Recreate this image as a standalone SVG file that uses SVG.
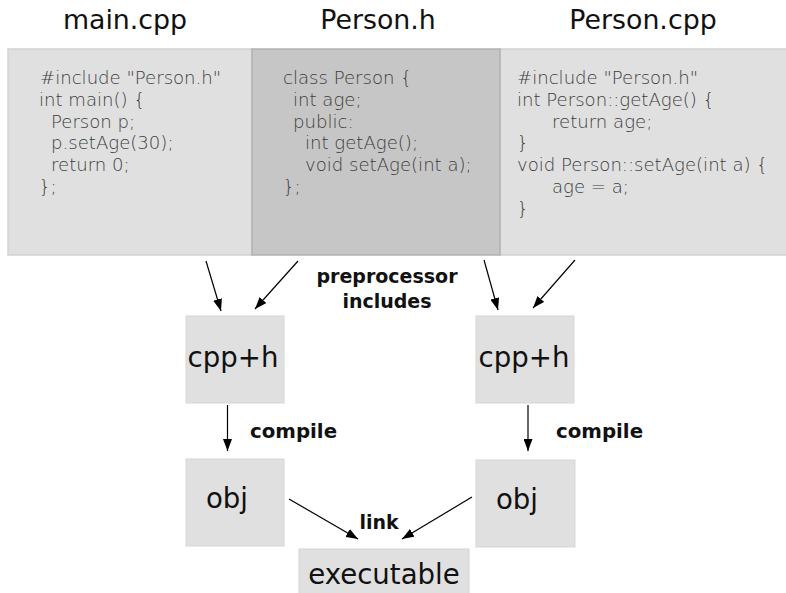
<svg xmlns="http://www.w3.org/2000/svg" width="786" height="593" viewBox="0 0 786 593">
  <defs>
    <marker id="arrow" markerWidth="12" markerHeight="9" refX="12" refY="4.5" orient="auto" markerUnits="userSpaceOnUse">
      <path d="M0,0 L12,4.5 L0,9 z" fill="#000"/>
    </marker>
    <style>
      .title { font-family: "DejaVu Sans", sans-serif; font-size: 26.8px; fill: #111; text-anchor: middle; }
      .code { font-family: "DejaVu Sans", sans-serif; font-size: 18.1px; font-weight: 300; fill: #3c3c3c; }
      .file { fill: #e0e0e0; stroke: #d2d2d2; stroke-width: 1.5; }
      .header { fill: #c6c6c6; stroke: #b2b2b2; stroke-width: 1.5; }
      .box { fill: #e0e0e0; stroke: #d6d6d6; stroke-width: 1; }
      .big { font-family: "DejaVu Sans", sans-serif; font-size: 27.6px; fill: #111; text-anchor: middle; }
      .label { font-family: "DejaVu Sans", sans-serif; font-size: 19px; font-weight: bold; fill: #111; }
      .conn { stroke: #000; stroke-width: 1.2; fill: none; marker-end: url(#arrow); }
    </style>
  </defs>

  <g id="main-cpp">
    <rect class="file" x="8" y="49" width="244" height="206"/>
    <text class="title" x="125" y="29">main.cpp</text>
    <text class="code" x="40" y="84">#include "Person.h"</text>
    <text class="code" x="39" y="106">int main() {</text>
    <text class="code" x="51" y="128">Person p;</text>
    <text class="code" x="51" y="149">p.setAge(30);</text>
    <text class="code" x="51" y="171">return 0;</text>
    <text class="code" x="39" y="193">};</text>
  </g>

  <g id="person-cpp">
    <rect class="file" x="500" y="49" width="290" height="206"/>
    <text class="title" x="643" y="29">Person.cpp</text>
    <text class="code" x="517" y="84">#include "Person.h"</text>
    <text class="code" x="517" y="106">int Person::getAge() {</text>
    <text class="code" x="552" y="128">return age;</text>
    <text class="code" x="517" y="149">}</text>
    <text class="code" x="517" y="171">void Person::setAge(int a) {</text>
    <text class="code" x="552" y="193">age = a;</text>
    <text class="code" x="517" y="215">}</text>
  </g>

  <g id="person-h">
    <rect class="header" x="252" y="49" width="248" height="206"/>
    <text class="title" x="378" y="29">Person.h</text>
    <text class="code" x="283" y="84">class Person {</text>
    <text class="code" x="293" y="106">int age;</text>
    <text class="code" x="293" y="128">public:</text>
    <text class="code" x="305" y="149">int getAge();</text>
    <text class="code" x="305" y="171">void setAge(int a);</text>
    <text class="code" x="283" y="193">};</text>
  </g>

  <g id="cpp-h-left">
    <rect class="box" x="186" y="316" width="98" height="87"/>
    <text class="big" x="233" y="367">cpp+h</text>
  </g>
  <g id="cpp-h-right">
    <rect class="box" x="476" y="316" width="98" height="87"/>
    <text class="big" x="524" y="367">cpp+h</text>
  </g>
  <g id="obj-left">
    <rect class="box" x="186" y="459" width="98" height="87"/>
    <text class="big" x="227" y="508">obj</text>
  </g>
  <g id="obj-right">
    <rect class="box" x="476" y="460" width="99" height="87"/>
    <text class="big" x="517" y="509">obj</text>
  </g>
  <g id="executable">
    <rect class="box" x="299" y="549" width="170" height="50"/>
    <text class="big" x="384" y="584">executable</text>
  </g>

  <g id="connectors">
    <line class="conn" x1="206" y1="261" x2="221" y2="311"/>
    <line class="conn" x1="298" y1="261" x2="255" y2="309"/>
    <line class="conn" x1="484" y1="260" x2="498" y2="310"/>
    <line class="conn" x1="575" y1="260" x2="533" y2="308"/>
    <line class="conn" x1="227.5" y1="405" x2="227.5" y2="451"/>
    <line class="conn" x1="528" y1="405" x2="528" y2="451"/>
    <line class="conn" x1="289" y1="499" x2="358" y2="539"/>
    <line class="conn" x1="472" y1="497" x2="402" y2="539"/>
    <text class="label" x="387" y="283" text-anchor="middle">preprocessor</text>
    <text class="label" x="387" y="308" text-anchor="middle">includes</text>
    <text class="label" x="250" y="438" style="font-size:19.8px">compile</text>
    <text class="label" x="556" y="438" style="font-size:19.8px">compile</text>
    <text class="label" x="379" y="529" text-anchor="middle">link</text>
  </g>
</svg>
